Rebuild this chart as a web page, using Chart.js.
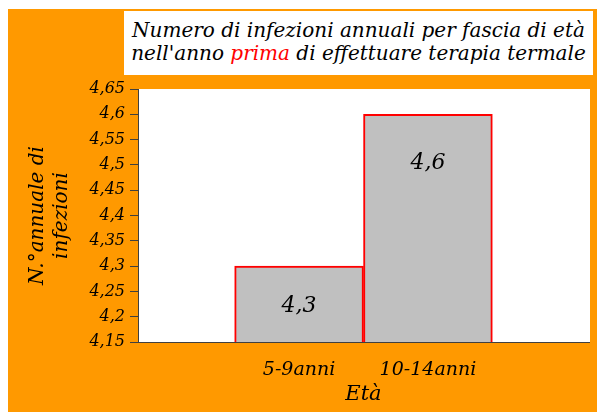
<!DOCTYPE html>
<html>
<head>
<meta charset="utf-8">
<script src="https://cdn.jsdelivr.net/npm/chart.js@4.4.1/dist/chart.umd.min.js"></script>
<style>
  html, body { margin: 0; padding: 0; background: #ffffff; }
  #frame { position: absolute; left: 8px; top: 9px; width: 589px; height: 403px; background: #ff9900; }
  #title {
    position: absolute; left: 124px; top: 11px; width: 469px; height: 64px;
    box-sizing: border-box; padding-top: 8px; background: #ffffff;
    font-family: "DejaVu Serif", serif; font-style: italic; font-size: 20px;
    line-height: 23px; text-align: center; color: #000000; white-space: nowrap;
  }
  #title .red { color: #ff0000; }
</style>
</head>
<body>
<div id="frame"><canvas id="chart"></canvas></div>
<div id="title">Numero di infezioni annuali per fascia di età<br>nell'anno <span class="red">prima</span> di effettuare terapia termale</div>
<script>
const categories = ["5-9anni", "10-14anni"];
const categoryPositions = [0, 1];
const infections = [4.3, 4.6];

const FONT = "'DejaVu Serif', serif";
const AXIS_COLOR = "#404040";

function formatNumber(value) {
  return String(Math.round(value * 100) / 100).replace(".", ",");
}

const plotBackground = {
  id: "plotBackground",
  beforeDraw(chart) {
    const { ctx, chartArea } = chart;
    ctx.save();
    ctx.fillStyle = "#ffffff";
    ctx.fillRect(chartArea.left, chartArea.top, chartArea.right - chartArea.left + 1, chartArea.bottom - chartArea.top);
    ctx.restore();
  }
};

// value labels inside the bars, offset from the bar top
const valueLabels = {
  id: "valueLabels",
  afterDatasetsDraw(chart, args, options) {
    const { ctx } = chart;
    const meta = chart.getDatasetMeta(0);
    ctx.save();
    ctx.font = "italic 22px " + FONT;
    ctx.fillStyle = "#000000";
    ctx.textAlign = "center";
    ctx.textBaseline = "middle";
    meta.data.forEach((bar, index) => {
      ctx.fillText(formatNumber(infections[index]), bar.x, bar.y + options.offsets[index]);
    });
    ctx.restore();
  }
};

new Chart(document.getElementById("chart"), {
  type: "bar",
  data: {
    datasets: [
      {
        data: categoryPositions.map((x, index) => ({ x, y: infections[index] })),
        backgroundColor: "#c0c0c0",
        borderColor: "#ff0000",
        borderWidth: 2,
        borderSkipped: false,
        barPercentage: 1,
        categoryPercentage: 1
      }
    ]
  },
  options: {
    responsive: true,
    maintainAspectRatio: false,
    animation: false,
    layout: { padding: { top: 80, right: 8, left: 0, bottom: 0 } },
    plugins: {
      legend: { display: false },
      tooltip: { enabled: false },
      valueLabels: { offsets: [40, 49] }
    },
    scales: {
      x: {
        type: "linear",
        offset: false,
        min: -1.25,
        max: 2.25,
        afterBuildTicks: (scale) => {
          scale.ticks = categoryPositions.map((value) => ({ value }));
        },
        afterFit: (scale) => { scale.height = 70; },
        grid: { display: false, drawTicks: false },
        border: { color: AXIS_COLOR, width: 1 },
        ticks: {
          callback: (value, index) => categories[index],
          color: "#000000",
          font: { family: FONT, style: "italic", size: 19 },
          padding: 17,
          maxRotation: 0,
          autoSkip: false
        },
        title: {
          display: true,
          text: "Età",
          color: "#000000",
          font: { family: FONT, style: "italic", size: 21 },
          padding: { top: 0, bottom: 5 }
        }
      },
      y: {
        min: 4.15,
        max: 4.65,
        afterFit: (scale) => { scale.width = 130; },
        grid: { drawOnChartArea: false, color: AXIS_COLOR, tickLength: 8 },
        border: { color: AXIS_COLOR, width: 1 },
        ticks: {
          stepSize: 0.05,
          callback: (value) => formatNumber(value),
          color: "#000000",
          font: { family: FONT, style: "italic", size: 16 },
          padding: 5
        },
        title: {
          display: true,
          text: ["N.°annuale di", "infezioni"],
          color: "#000000",
          font: { family: FONT, style: "italic", size: 20 },
          padding: { top: 18, bottom: 0 }
        }
      }
    }
  },
  plugins: [plotBackground, valueLabels]
});
</script>
</body>
</html>
